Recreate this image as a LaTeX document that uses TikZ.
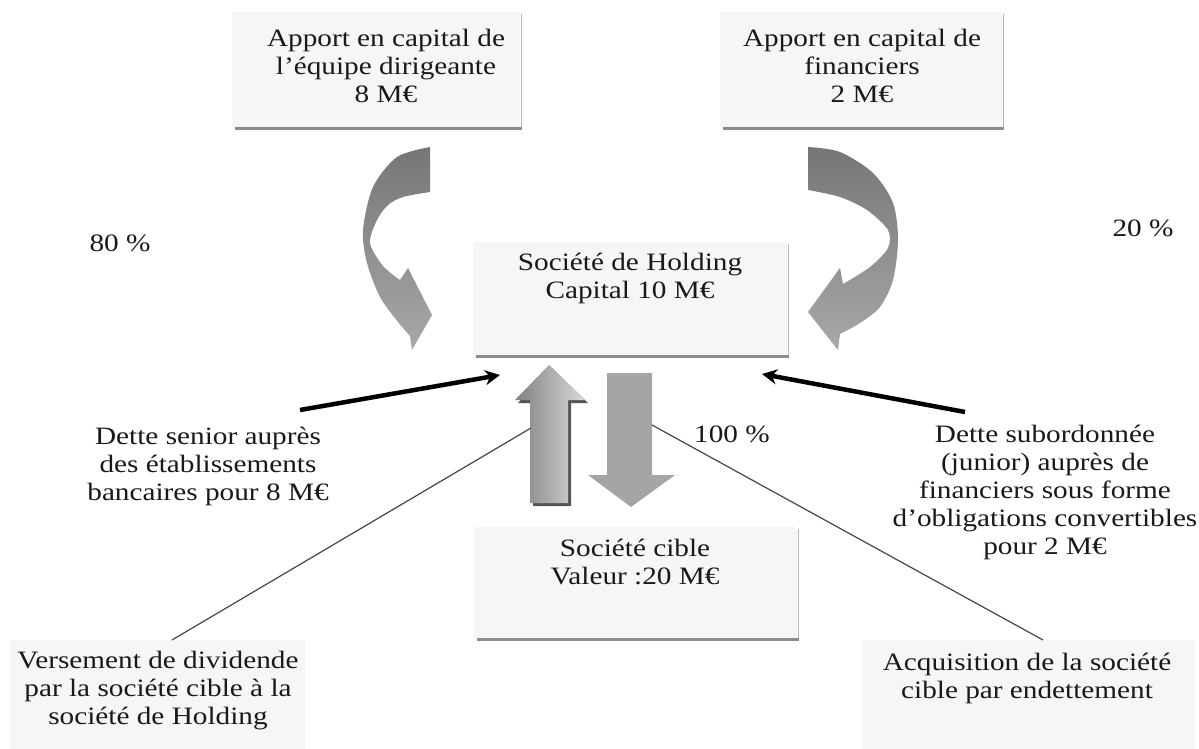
\documentclass[tikz,border=0pt]{standalone}
\usepackage{fontspec}
\setmainfont{Liberation Serif}[FakeStretch=1.17]
\usetikzlibrary{arrows.meta}
\definecolor{boxfill}{RGB}{246,246,246}
\definecolor{boxshadow}{RGB}{140,140,140}
\definecolor{sideshadow}{RGB}{185,185,185}
\definecolor{curvtop}{RGB}{118,118,118}
\definecolor{curvbot}{RGB}{168,168,168}
\definecolor{upleft}{RGB}{128,128,128}
\definecolor{upright}{RGB}{218,218,218}
\definecolor{upedge}{RGB}{85,85,85}
\definecolor{downfill}{RGB}{165,165,165}
\definecolor{linegray}{RGB}{70,70,70}
\definecolor{txtcol}{RGB}{25,25,25}
\tikzset{
  box/.style={fill=boxfill, draw=none, inner sep=0pt},
  bottomedge/.style={line width=2.6pt, boxshadow},
  rightedge/.style={line width=1.8pt, sideshadow},
  txt/.style={font=\fontsize{25}{28}\selectfont, align=center, inner sep=0pt, text=txtcol},
  thickarrow/.style={line width=4.5pt, -{Stealth[length=15pt,width=15pt]}, black},
  thinline/.style={line width=1.2pt, linegray},
  curved/.style={top color=curvtop, bottom color=curvbot, draw=none},
}
\newcommand{\boxedges}[1]{%
  \draw[rightedge] ([xshift=1pt,yshift=-2pt]#1.north east) -- ([xshift=1pt]#1.south east);
  \draw[bottomedge] ([xshift=3pt,yshift=-1pt]#1.south west) -- ([xshift=2pt,yshift=-1pt]#1.south east);
}
\begin{document}
\begin{tikzpicture}[x=1pt,y=-1pt]
\useasboundingbox (0,0) rectangle (1199,749);
\fill[white] (0,0) rectangle (1199,749);

% boxes
\node[box, anchor=north west, minimum width=288pt, minimum height=115pt] (tl) at (232,12) {};
\node[box, anchor=north west, minimum width=282pt, minimum height=115pt] (tr) at (720,12) {};
\node[box, anchor=north west, minimum width=314pt, minimum height=113pt] (hold) at (473,242) {};
\node[box, anchor=north west, minimum width=323pt, minimum height=111pt] (cible) at (474,527) {};
\node[box, anchor=north west, minimum width=295pt, minimum height=130pt] (bl) at (10,640) {};
\node[box, anchor=north west, minimum width=333pt, minimum height=130pt] (br) at (862,640) {};
\boxedges{tl}
\boxedges{tr}
\boxedges{hold}
\boxedges{cible}

% box texts
\node[txt] (tlt) at (386,66) {Apport en capital de\\l’équipe dirigeante\\8 M€};
\node[txt] (trt) at (862,66) {Apport en capital de\\financiers\\2 M€};
\node[txt] (holdt) at (630,278) {Société de Holding\\Capital 10 M€};
\node[txt] (ciblet) at (635,562) {Société cible\\Valeur :20 M€};
\node[txt] (blt) at (158,691) {Versement de dividende\\par la société cible à la\\société de Holding};
\node[txt] (brt) at (1027,678) {Acquisition de la société\\cible par endettement};

% free labels
\node[txt] (p80) at (120,243) {80 \%};
\node[txt] (p20) at (1143,228) {20 \%};
\node[txt] (p100) at (732,434) {100 \%};
\node[txt] (senior) at (208,466) {Dette senior auprès\\des établissements\\bancaires pour 8 M€};
\node[txt] (junior) at (1045,492) {Dette subordonnée\\(junior) auprès de\\financiers sous forme\\d’obligations convertibles\\pour 2 M€};

% curved arrows
\shade[curved] (430,147)
  -- plot[smooth] coordinates {(430,147) (397,157) (373,187) (363,230) (367,263) (380,297) (398,322) (410,336)}
  -- (412,350) -- (432,315) -- (408,268) -- (400,280)
  -- plot[smooth] coordinates {(400,280) (383,266) (370,243) (377,220) (388,205) (403,197) (430,192)}
  -- cycle;
\shade[curved] (808,147)
  -- plot[smooth] coordinates {(808,147) (840,152) (873,173) (893,203) (898,240) (893,280) (880,307) (860,323) (840,334)}
  -- (838,350) -- (808,312) -- (840,268) -- (843,284)
  -- plot[smooth] coordinates {(843,284) (870,267) (888,248) (888,230) (867,210) (840,197) (808,190)}
  -- cycle;

% block arrows
\fill[upedge] (533,506) -- (533,403) -- (518,403) -- (552,368) -- (588,403) -- (571,403) -- (571,506) -- cycle;
\shade[left color=upleft, right color=upright] (530,503) -- (530,400) -- (515,400) -- (549,365) -- (585,400) -- (568,400) -- (568,503) -- cycle;
\fill[downfill] (607,373) -- (652,373) -- (652,475) -- (675,475) -- (631,507) -- (588,475) -- (607,475) -- cycle;

% thick arrows
\coordinate (ls) at (300,410);
\coordinate (le) at (500,375);
\coordinate (rs) at (965,412);
\coordinate (re) at (762,374);
\draw[thickarrow] (ls) -- (le);
\draw[thickarrow] (rs) -- (re);

% thin lines
\coordinate (blc) at (172,640);
\coordinate (upl) at (531,428);
\coordinate (brc) at (1043,640);
\coordinate (dnr) at (652,425);
\draw[thinline] (blc) -- (upl);
\draw[thinline] (brc) -- (dnr);
\end{tikzpicture}
\end{document}
